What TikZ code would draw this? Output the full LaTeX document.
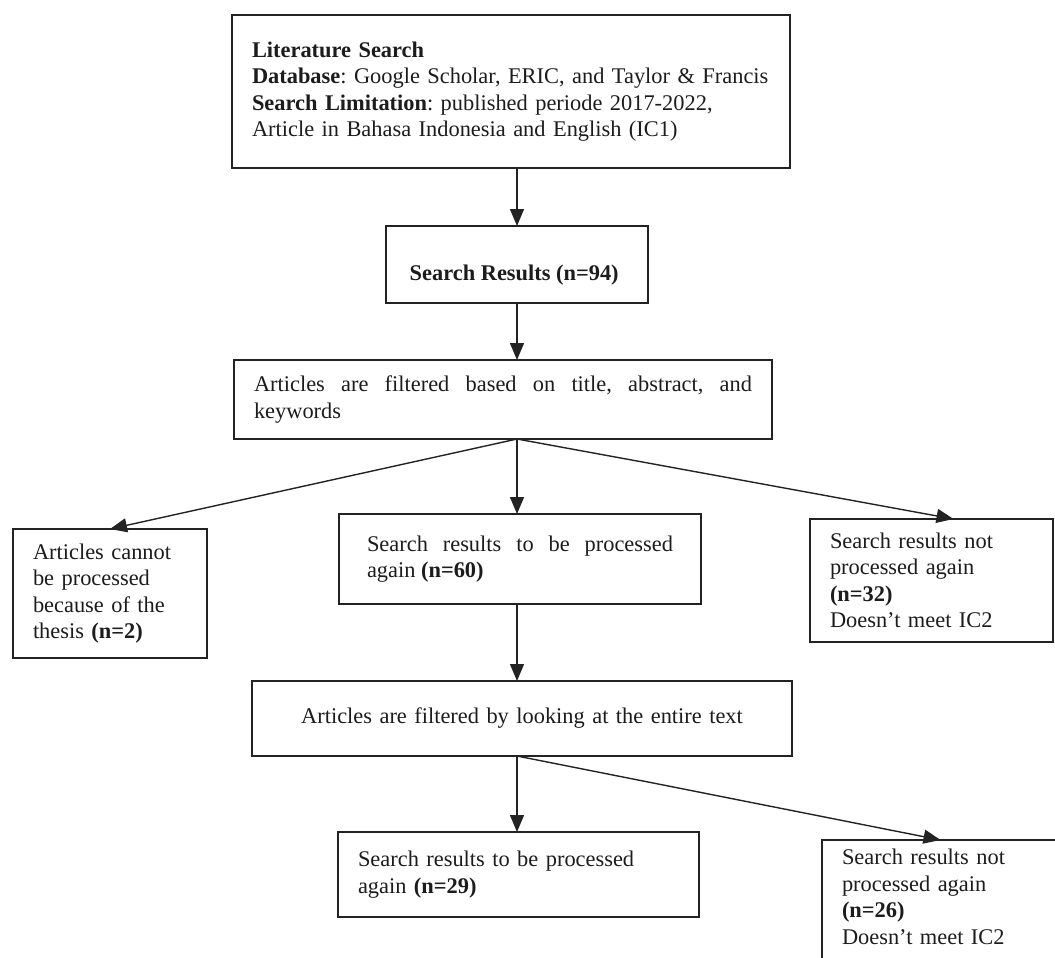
\documentclass[tikz,border=0pt]{standalone}
\usepackage{fontspec}
\setmainfont{Liberation Serif}
\usepackage{xcolor}
\definecolor{flowInk}{RGB}{28, 28, 28}
\definecolor{flowLine}{RGB}{35, 35, 35}
\usepackage{tikz}
\usetikzlibrary{
    arrows.meta,
    positioning,
    calc
}
\newcommand{\boxfont}{\fontsize{22.4pt}{26.5pt}\selectfont\frenchspacing\tolerance=9999\hyphenpenalty=10000}

\begin{document}
\begin{tikzpicture}[
    x=1pt, y=-1pt,
    flowBox/.style={
        rectangle, anchor=north west,
        draw=flowLine, line width=1.5pt,
        fill=white, text=flowInk,
        font=\boxfont, align=left,
        inner xsep=20pt, inner ysep=3pt, outer sep=0pt
    },
    flowArrow/.style={
        -{Triangle[length=17pt, width=14pt]}, line width=1.4pt, draw=flowLine
    }
]

    \useasboundingbox (0,0) rectangle (1055,958);
    \clip (0,0) rectangle (1055,958);

    % Search stage
    \node[flowBox, minimum width=558pt, minimum height=153pt, text width=518pt] (litSearch) at (232,15) {
        \textbf{Literature Search}\\
        \mbox{\textbf{Database}: Google Scholar, ERIC, and Taylor \& Francis}\\
        \textbf{Search Limitation}: published periode 2017-2022,\\
        Article in Bahasa Indonesia and English (IC1)
    };

    \node[flowBox, align=center, minimum width=262pt, minimum height=77pt,
          text height=38pt, text depth=6pt] (searchRes) at (386,226) {
        \textbf{Search Results (n=94)}
    };

    % First screening
    \node[flowBox, align=justify, minimum width=538pt, minimum height=79pt, text width=498pt] (titleFilter) at (234,360) {
        Articles are filtered based on title, abstract, and keywords
    };

    \node[flowBox, minimum width=194pt, minimum height=129pt, text width=154pt] (thesisOut) at (13,529) {
        Articles cannot\\
        be processed\\
        because of the\\
        thesis \textbf{(n=2)}
    };

    \node[flowBox, align=justify, minimum width=362pt, minimum height=90pt, text width=306pt, inner xsep=28pt] (toProcA) at (339,514) {
        Search results to be processed again \textbf{(n=60)}
    };

    \node[flowBox, minimum width=243pt, minimum height=123pt, text width=203pt] (notProcA) at (810,519) {
        Search results not\\
        processed again\\
        \textbf{(n=32)}\\
        Doesn't meet IC2
    };

    % Full text screening
    \node[flowBox, align=center, minimum width=540pt, minimum height=75pt, text width=500pt] (textFilter) at (252,681) {
        Articles are filtered by looking at the entire text
    };

    \node[flowBox, minimum width=361pt, minimum height=85pt, text width=321pt] (toProcB) at (338,832) {
        Search results to be processed\\
        again \textbf{(n=29)}
    };

    \node[flowBox, minimum width=243pt, minimum height=140pt, text width=203pt, inner xsep=19pt] (notProcB) at (822,840) {
        Search results not\\
        processed again\\
        \textbf{(n=26)}\\
        Doesn't meet IC2\\
        \mbox{}
    };

    % Split points
    \coordinate (splitA) at (titleFilter.south -| searchRes.south);
    \coordinate (splitB) at (textFilter.south -| searchRes.south);

    % Links
    \draw[flowArrow] (searchRes.north |- litSearch.south) -- (searchRes.north);
    \draw[flowArrow] (searchRes.south) -- (searchRes.south |- titleFilter.north);

    \draw[flowArrow] (splitA) -- (thesisOut.north);
    \draw[flowArrow] (splitA) -- (splitA |- toProcA.north);
    \draw[flowArrow] (splitA) -- ([xshift=22pt]notProcA.north);

    \draw[flowArrow] (splitA |- toProcA.south) -- (splitA |- textFilter.north);

    \draw[flowArrow] (splitB) -- (splitB |- toProcB.north);
    \draw[flowArrow] (splitB) -- ([xshift=-3pt]notProcB.north);

\end{tikzpicture}
\end{document}
